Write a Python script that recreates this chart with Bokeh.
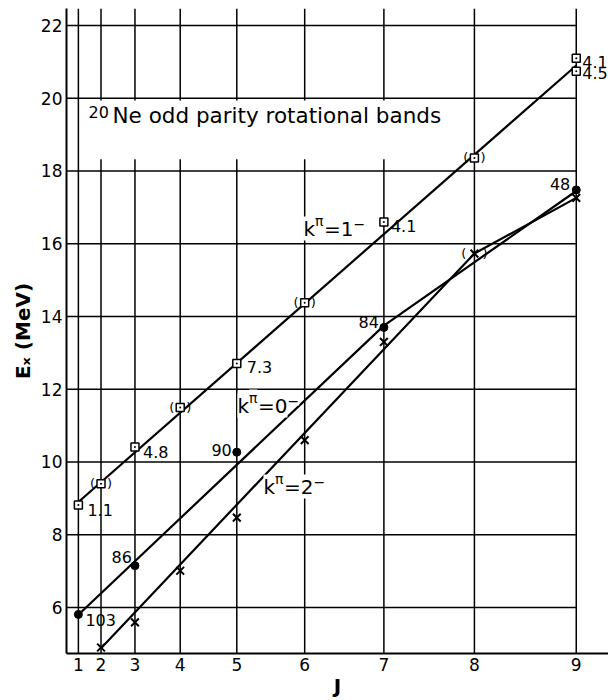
import math
from bokeh.plotting import figure
from bokeh.models import Range1d, FixedTicker, CustomJSTickFormatter, Label
from bokeh.core.properties import value
from bokeh.embed import file_html
from bokeh.resources import INLINE

# ---------------- data ----------------
J_TICKS = [1, 2, 3, 4, 5, 6, 7, 8, 9]
E_TICKS = [6, 8, 10, 12, 14, 16, 18, 20, 22]

# K^pi = 1-  band (open squares)
K1_J = [1, 2, 3, 4, 5, 6, 7, 8, 9, 9]
K1_E = [8.82, 9.40, 10.41, 11.50, 12.71, 14.38, 16.60, 18.36, 21.10, 20.74]
K1_TENT = [False, True, False, True, False, True, False, True, False, False]
K1_LINE_J = [1, 9]
K1_LINE_E = [8.90, 20.90]

# K^pi = 0-  band (filled dots)
K0_J = [1, 3, 5, 7, 9]
K0_E = [5.81, 7.15, 10.27, 13.70, 17.48]
K0_LINE_J = [1, 7, 9]
K0_LINE_E = [5.80, 13.75, 17.45]

# K^pi = 2-  band (crosses)
K2_J = [2, 3, 4, 5, 6, 7, 8, 9]
K2_E = [4.90, 5.59, 7.01, 8.47, 10.60, 13.30, 15.73, 17.26]
K2_TENT = [False, False, False, False, False, False, True, False]
K2_LINE_J = [2, 8, 9]
K2_LINE_E = [4.88, 15.73, 17.26]

# strength labels
K1_STR_J = [1, 3, 5, 7, 9, 9]
K1_STR_E = [8.82, 10.41, 12.71, 16.60, 21.10, 20.74]
K1_STR = ["1.1", "4.8", "7.3", "4.1", "4.1", "4.5"]
K0_STR_J = [1, 3, 5, 7, 9]
K0_STR_E = [5.81, 7.15, 10.27, 13.70, 17.48]
K0_STR = ["103", "86", "90", "84", "48"]

# ---------------- layout / style ----------------
FONT = "DejaVu Sans"
K1_STR_DX = [9, 8, 10, 7, 6, 6]
K1_STR_DY = [5, 5, 4, 4, 4, 2]
K0_STR_ALIGN = ["left", "right", "right", "right", "right"]
K0_STR_DX = [7, -3, -5, -5, -6]
K0_STR_DY = [6, -9, -2, -5, -6]

X0, X1 = -0.1, 95.7
Y0, Y1 = 4.735, 22.467
FRAME_LEFT_PX, FRAME_BOTTOM_PX = 66, 653


def jj(js):
    return [j * (j + 1) for j in js]


def sx(ix):
    return ix - FRAME_LEFT_PX


def sy(iy):
    return FRAME_BOTTOM_PX - iy


p = figure(width=608, height=700, output_backend="svg", toolbar_location=None,
           x_range=Range1d(X0, X1), y_range=Range1d(Y0, Y1),
           min_border_left=66, min_border_right=0, min_border_top=8,
           min_border_bottom=47)
p.outline_line_color = None
p.background_fill_color = "white"
p.xgrid.visible = False
p.ygrid.visible = False

for ax in (p.xaxis, p.yaxis):
    ax.axis_line_width = 2
    ax.axis_line_color = "black"
    ax.major_tick_out = 0
    ax.major_tick_in = 0
    ax.minor_tick_out = 0
    ax.minor_tick_in = 0
    ax.major_label_text_font = FONT
    ax.major_label_text_font_size = "17px"
    ax.major_label_text_color = "black"
    ax.axis_label_text_font = FONT
    ax.axis_label_text_font_style = "bold"
    ax.axis_label_text_color = "black"

p.xaxis.ticker = FixedTicker(ticks=jj(J_TICKS))
p.xaxis.formatter = CustomJSTickFormatter(
    code="return String(Math.round((-1 + Math.sqrt(1 + 4*tick)) / 2));")
p.xaxis.major_label_standoff = 4
p.xaxis.axis_label = "J"
p.xaxis.axis_label_text_font_size = "20px"
p.xaxis.axis_label_standoff = 0

p.yaxis.ticker = FixedTicker(ticks=E_TICKS)
p.yaxis.major_label_standoff = 4
p.yaxis.axis_label = "E\u2093 (MeV)"
p.yaxis.axis_label_text_font_size = "20px"
p.yaxis.axis_label_standoff = 3

# grid lines
n = len(J_TICKS)
p.segment(x0=jj(J_TICKS), y0=[Y0] * n, x1=jj(J_TICKS), y1=[Y1] * n,
          line_color="black", line_width=1.5)
m = len(E_TICKS)
p.segment(x0=[0] * m, y0=E_TICKS, x1=[jj([J_TICKS[-1]])[0]] * m, y1=E_TICKS,
          line_color="black", line_width=1.5)

# white box behind title
p.quad(left=2.5, right=69, bottom=18.32, top=19.94, fill_color="white",
       line_color=None)

# band lines
for lj, le in ((K1_LINE_J, K1_LINE_E), (K0_LINE_J, K0_LINE_E), (K2_LINE_J, K2_LINE_E)):
    p.line(jj(lj), le, line_color="black", line_width=2.2)

# markers
p.scatter(jj(K1_J), K1_E, marker="square_dot", size=8, fill_color="white",
          line_color="black", line_width=1.5)
p.scatter(jj(K0_J), K0_E, marker="circle", size=8, fill_color="black",
          line_color="black")
p.scatter(jj(K2_J), K2_E, marker="x", size=11, line_color="black", line_width=2)

# parentheses around tentative points
tj = [j for j, t in zip(K1_J, K1_TENT) if t]
te = [e for e, t in zip(K1_E, K1_TENT) if t]
tj2 = [j for j, t in zip(K2_J, K2_TENT) if t]
te2 = [e for e, t in zip(K2_E, K2_TENT) if t]
for xs, ys, d in ((jj(tj), te, 6), (jj(tj2), te2, 8)):
    p.text(x=xs, y=ys, text=["("] * len(xs), x_offset=-d, text_align="right",
           text_baseline="middle", text_font=value(FONT), text_font_size="13px")
    p.text(x=xs, y=ys, text=[")"] * len(xs), x_offset=d, text_align="left",
           text_baseline="middle", text_font=value(FONT), text_font_size="13px")

# strength numbers
p.text(x=jj(K1_STR_J), y=K1_STR_E, text=K1_STR, x_offset=K1_STR_DX,
       y_offset=K1_STR_DY, text_align="left", text_baseline="middle",
       text_font=value(FONT), text_font_size="16px")
for a in ("left", "right"):
    idx = [i for i, al in enumerate(K0_STR_ALIGN) if al == a]
    p.text(x=jj([K0_STR_J[i] for i in idx]), y=[K0_STR_E[i] for i in idx],
           text=[K0_STR[i] for i in idx], x_offset=[K0_STR_DX[i] for i in idx],
           y_offset=[K0_STR_DY[i] for i in idx], text_align=a,
           text_baseline="middle", text_font=value(FONT), text_font_size="16px")


def lab(text, ix, iy, size, bg=None, **kw):
    p.add_layout(Label(x=sx(ix), y=sy(iy), x_units="screen", y_units="screen",
                       text=text, text_font=FONT, text_font_size=size,
                       text_color="black", background_fill_color=bg,
                       **kw))


# title
lab("20", 88, 117, "16px")
lab("Ne odd parity rotational bands", 112, 127, "21.5px")

# band labels k^pi = K^-
for left, base, kval in ((303, 240, "1"), (237, 417, "0"), (263, 498, "2")):
    lab("k", left, base, "20px", bg="white")
    lab("\u03c0", left + 11.5, base - 12, "14px", bg="white")
    lab("=" + kval, left + 20.5, base, "20px", bg="white")
    lab("\u2212", left + 50, base - 12, "14px", bg="white")

open("out.html", "w").write(file_html(p, INLINE))
